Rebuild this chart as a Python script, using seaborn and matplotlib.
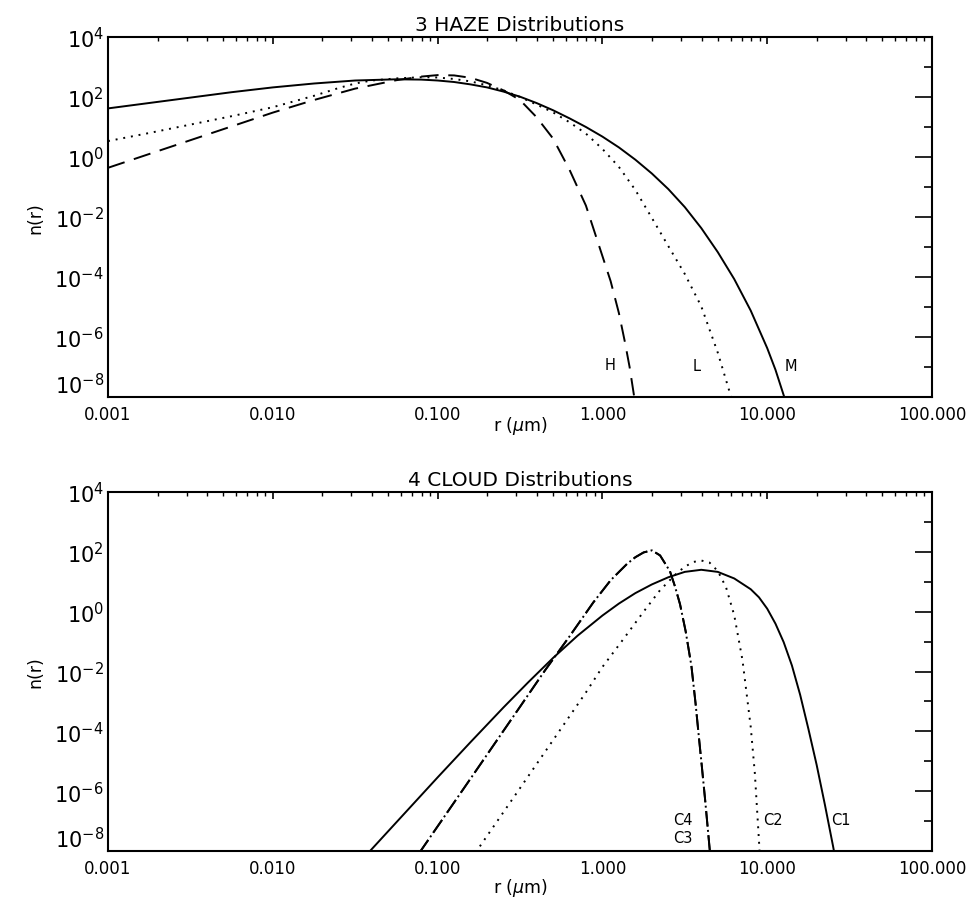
import numpy as np
import pandas as pd
import matplotlib
matplotlib.use("Agg")
import matplotlib.pyplot as plt
import matplotlib.ticker as mticker
import seaborn as sns

# ---------------- data (decimal exponents on the log axes) ----------------
# HAZE panel: r exponent -> n(r) exponent
haze_m_logr = [-3.0, -2.75, -2.5, -2.25, -2.0, -1.75, -1.5, -1.25, -1.1, -1.0, -0.9, -0.8,
               -0.7, -0.6, -0.5, -0.4, -0.3, -0.2, -0.1, 0.0, 0.1, 0.2, 0.3, 0.4, 0.5,
               0.6, 0.7, 0.8, 0.9, 1.0, 1.05, 1.10, 1.11]
haze_m_logn = [1.62, 1.80, 1.98, 2.16, 2.32, 2.45, 2.55, 2.59, 2.58, 2.55, 2.50, 2.42,
               2.32, 2.18, 2.01, 1.80, 1.56, 1.29, 1.00, 0.68, 0.32, -0.09, -0.55, -1.07, -1.67,
               -2.37, -3.17, -4.07, -5.12, -6.37, -7.09, -7.94, -8.12]

haze_l_logr = [-3.0, -2.75, -2.5, -2.25, -2.0, -1.75, -1.6, -1.5, -1.4, -1.25, -1.1, -1.0,
               -0.9, -0.8, -0.7, -0.6, -0.5, -0.4, -0.3, -0.2, -0.1, 0.0, 0.1, 0.2, 0.3,
               0.4, 0.5, 0.6, 0.7, 0.78, 0.79]
haze_l_logn = [0.53, 0.80, 1.08, 1.36, 1.66, 2.04, 2.30, 2.45, 2.55, 2.62, 2.66, 2.65,
               2.60, 2.52, 2.39, 2.22, 2.00, 1.75, 1.49, 1.16, 0.78, 0.27, -0.33, -1.10, -2.03,
               -2.97, -3.90, -4.98, -6.52, -7.98, -8.2]

haze_h_logr = [-3.0, -2.5, -2.0, -1.75, -1.5, -1.25, -1.1, -1.0, -0.9, -0.8, -0.7, -0.6,
               -0.5, -0.4, -0.3, -0.2, -0.1, 0.0, 0.05, 0.1, 0.137, 0.165, 0.192, 0.197]
haze_h_logn = [-0.36, 0.56, 1.48, 1.90, 2.28, 2.56, 2.68, 2.73, 2.72, 2.64, 2.47, 2.22,
               1.90, 1.33, 0.62, -0.42, -1.62, -3.30, -4.14, -5.20, -6.18, -7.00, -7.96, -8.2]

# CLOUD panel
cloud_c1_logr = [-1.45, -1.41, -1.2, -1.0, -0.8, -0.6, -0.45, -0.3, -0.15, 0.0, 0.1, 0.2,
                 0.3, 0.4, 0.5, 0.6, 0.7, 0.8, 0.9, 0.95, 1.0, 1.05, 1.1, 1.15, 1.2,
                 1.25, 1.3, 1.35, 1.40, 1.41]
cloud_c1_logn = [-8.24, -8.0, -6.74, -5.54, -4.36, -3.20, -2.36, -1.55, -0.80, -0.13, 0.27, 0.62,
                 0.91, 1.15, 1.33, 1.40, 1.33, 1.11, 0.75, 0.48, 0.10, -0.40, -1.02, -1.80, -2.78,
                 -3.92, -5.12, -6.45, -7.85, -8.15]

cloud_c2_logr = [-0.77, -0.763, -0.5, -0.3, -0.1, 0.0, 0.127, 0.25, 0.35, 0.45, 0.5, 0.55,
                 0.6, 0.65, 0.7, 0.75, 0.8, 0.85, 0.9, 0.925, 0.95, 0.955]
cloud_c2_logn = [-8.06, -8.0, -5.90, -4.30, -2.70, -1.85, -0.92, 0.0, 0.72, 1.28, 1.50, 1.66,
                 1.71, 1.64, 1.36, 0.82, -0.12, -1.62, -3.85, -5.40, -7.65, -8.15]

cloud_c3_logr = [-1.11, -1.103, -0.8, -0.5, -0.348, -0.2, -0.055, 0.05, 0.15, 0.2, 0.25, 0.30,
                 0.35, 0.41, 0.44, 0.471, 0.505, 0.54, 0.565, 0.582, 0.603, 0.623, 0.652, 0.656]
cloud_c3_logn = [-8.06, -8.0, -5.58, -3.18, -1.96, -0.83, 0.31, 1.05, 1.60, 1.82, 1.98, 2.05,
                 1.88, 1.35, 0.85, 0.25, -0.65, -1.81, -3.05, -4.00, -5.15, -6.27, -8.0, -8.25]

cloud_c4_logr = [-1.11, -1.103, -0.8, -0.5, -0.348, -0.2, -0.055, 0.05, 0.15, 0.2, 0.25, 0.30,
                 0.35, 0.41, 0.44, 0.471, 0.505, 0.54, 0.565, 0.582, 0.603, 0.623, 0.652, 0.656]
cloud_c4_logn = [-8.06, -8.0, -5.58, -3.18, -1.96, -0.83, 0.31, 1.05, 1.60, 1.82, 1.98, 2.05,
                 1.88, 1.35, 0.85, 0.25, -0.65, -1.81, -3.05, -4.00, -5.15, -6.27, -8.0, -8.25]

x_ticks = [1e-3, 1e-2, 1e-1, 1e0, 1e1, 1e2]
x_tick_labels = ["0.001", "0.010", "0.100", "1.000", "10.000", "100.000"]
y_major = [1e-8, 1e-6, 1e-4, 1e-2, 1e0, 1e2, 1e4]
y_minor = [1e-7, 1e-5, 1e-3, 1e-1, 1e1, 1e3]

haze_labels = [("H", 1.11, 1.2e-7), ("L", 3.75, 1.1e-7), ("M", 13.9, 1.1e-7)]
cloud_labels = [("C4", 3.08, 1.15e-7), ("C3", 3.08, 2.9e-8), ("C2", 10.9, 1.15e-7),
                ("C1", 28.0, 1.15e-7)]


def curve(logr, logn, name):
    return pd.DataFrame({"r": np.power(10.0, logr), "n": np.power(10.0, logn), "dist": name})


# ---------------- plotting ----------------
sns.set_theme(style="white")
plt.rcParams["font.family"] = ["DejaVu Sans"]
plt.rcParams["mathtext.fontset"] = "dejavusans"
plt.rcParams["text.color"] = "black"
plt.rcParams["axes.labelcolor"] = "black"
plt.rcParams["xtick.color"] = "black"
plt.rcParams["ytick.color"] = "black"

fig = plt.figure(figsize=(9.76, 9.04), dpi=100)
ax1 = fig.add_axes([108 / 976, 1 - 398 / 904, 824 / 976, 360 / 904])
ax2 = fig.add_axes([108 / 976, 1 - 852 / 904, 824 / 976, 359 / 904])

haze_df = pd.concat([
    curve(haze_m_logr, haze_m_logn, "M"),
    curve(haze_l_logr, haze_l_logn, "L"),
    curve(haze_h_logr, haze_h_logn, "H"),
], ignore_index=True)
cloud_df = pd.concat([
    curve(cloud_c1_logr, cloud_c1_logn, "C1"),
    curve(cloud_c2_logr, cloud_c2_logn, "C2"),
    curve(cloud_c3_logr, cloud_c3_logn, "C3"),
    curve(cloud_c4_logr, cloud_c4_logn, "C4"),
], ignore_index=True)

haze_dashes = {"M": "", "L": (1, 3), "H": (9, 5)}
cloud_dashes = {"C1": "", "C2": (1, 3), "C3": (8, 4.5), "C4": (8, 1.75, 1, 1.75)}

for ax in (ax1, ax2):
    ax.set_xscale("log")
    ax.set_yscale("log")

sns.lineplot(data=haze_df, x="r", y="n", style="dist", dashes=haze_dashes,
             color="black", linewidth=1.4, estimator=None, sort=False,
             legend=False, ax=ax1)
sns.lineplot(data=cloud_df, x="r", y="n", style="dist", dashes=cloud_dashes,
             color="black", linewidth=1.4, estimator=None, sort=False,
             legend=False, ax=ax2)

for ax, title, lab_y in ((ax1, "3 HAZE Distributions", -0.047),
                         (ax2, "4 CLOUD Distributions", -0.07)):
    ax.set_xlim(1e-3, 1e2)
    ax.set_ylim(1e-8, 1e4)
    ax.set_xticks(x_ticks)
    ax.set_xticklabels(x_tick_labels)
    ax.xaxis.set_minor_locator(mticker.LogLocator(base=10, subs=np.arange(2, 10), numticks=20))
    ax.xaxis.set_minor_formatter(mticker.NullFormatter())
    ax.yaxis.set_major_locator(mticker.FixedLocator(y_major))
    ax.yaxis.set_major_formatter(mticker.LogFormatterMathtext())
    ax.yaxis.set_minor_locator(mticker.FixedLocator(y_minor))
    ax.yaxis.set_minor_formatter(mticker.NullFormatter())
    ax.tick_params(which="both", direction="in", top=True, right=True, colors="black")
    ax.tick_params(axis="y", which="major", length=12, width=1.2, labelsize=15, pad=3)
    ax.tick_params(axis="y", which="minor", length=6, width=1.2)
    ax.tick_params(axis="x", which="major", length=5, width=1.2, labelsize=12, pad=6)
    ax.tick_params(axis="x", which="minor", length=2.8, width=1.0)
    for sp in ax.spines.values():
        sp.set_linewidth(1.5)
        sp.set_color("black")
    ax.set_title(title, fontsize=14.5, pad=5, color="black")
    ax.set_xlabel(r"r ($\mu$m)", fontsize=12.5)
    ax.xaxis.set_label_coords(0.5, lab_y)
    ax.set_ylabel("n(r)", fontsize=12.5, labelpad=7)
    ax.grid(False)
    # lowest decade label sits just above the bottom axis, as in the reference
    ticks = ax.yaxis.get_major_ticks()
    ticks[0].label1.set_verticalalignment("bottom")

for txt, x, y in haze_labels:
    ax1.text(x, y, txt, fontsize=10.5, ha="center", va="center")
for txt, x, y in cloud_labels:
    ax2.text(x, y, txt, fontsize=10.5, ha="center", va="center")

fig.savefig("out.png", dpi=100)
